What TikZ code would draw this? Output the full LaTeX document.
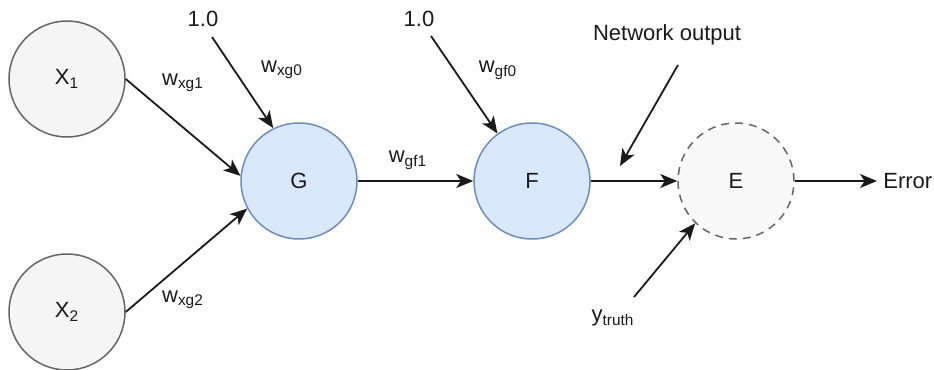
\documentclass[tikz,border=0pt]{standalone}
\usepackage{fontspec}
\setmainfont{Liberation Sans}
\usetikzlibrary{arrows.meta}
\definecolor{inputfill}{HTML}{F5F5F5}
\definecolor{inputline}{HTML}{666666}
\definecolor{unitfill}{HTML}{DAE8FC}
\definecolor{unitline}{HTML}{6C8EBF}
\definecolor{errfill}{HTML}{F9F9F9}
\definecolor{ink}{HTML}{1A1A1A}
\tikzset{
  neuron/.style={circle, minimum size=58pt, inner sep=0pt, line width=0.75pt, text=ink,
                 font=\fontsize{11}{13}\selectfont},
  inputnode/.style={neuron, draw=inputline, fill=inputfill},
  unitnode/.style={neuron, draw=unitline, fill=unitfill},
  errnode/.style={neuron, draw=inputline, fill=errfill, dash pattern=on 4pt off 3pt},
  lbl/.style={inner sep=1pt, text=ink, font=\fontsize{11}{13}\selectfont},
  link/.style={draw=ink, line width=0.9pt, -{Stealth[length=8.5pt, width=7pt, inset=2.3pt]}},
}
\begin{document}
\begin{tikzpicture}[x=0.5pt, y=-0.5pt]
\useasboundingbox (0,0) rectangle (934,370);

% neurons
\node[inputnode] (x1) at (67,79) {X\textsubscript{1}};
\node[inputnode] (x2) at (67,312) {X\textsubscript{2}};
\node[unitnode]  (g)  at (299,181) {G};
\node[unitnode]  (f)  at (532,181) {F};
\node[errnode]   (e)  at (736,181) {E};

% free texts
\node[lbl] (biasg) at (203,19) {1.0};
\node[lbl] (biasf) at (419,19) {1.0};
\node[lbl] (netout) at (667,35) {Network output};
\node[lbl] (truth) at (613,318) {y\textsubscript{truth}};
\node[lbl, inner sep=0pt, anchor=west] (err) at (883,181) {Error};

% weight labels
\node[lbl] (wxg1) at (183,83) {w\textsubscript{xg1}};
\node[lbl] (wxg0) at (282,70) {w\textsubscript{xg0}};
\node[lbl] (wxg2) at (183,300) {w\textsubscript{xg2}};
\node[lbl] (wgf0) at (498,70) {w\textsubscript{gf0}};
\node[lbl] (wgf1) at (408,160) {w\textsubscript{gf1}};

% connector ends
\coordinate (bgs) at (212,37);
\coordinate (bfs) at (431,36);
\coordinate (nos) at (678,65);
\coordinate (noe) at (620,166);
\coordinate (ts)  at (634,297);

% connectors
\draw[link] (x1.east) -- (g.175);
\draw[link] (x2.east) -- (g.208);
\draw[link] (bgs) -- (g.116);
\draw[link] (g.east) -- (f.west);
\draw[link] (bfs) -- (f.126);
\draw[link] (f.east) -- (e.west);
\draw[link] (nos) -- (noe);
\draw[link] (ts) -- (e.226);
\draw[link, shorten >=3pt] (e.east) -- (err.west);
\end{tikzpicture}
\end{document}
